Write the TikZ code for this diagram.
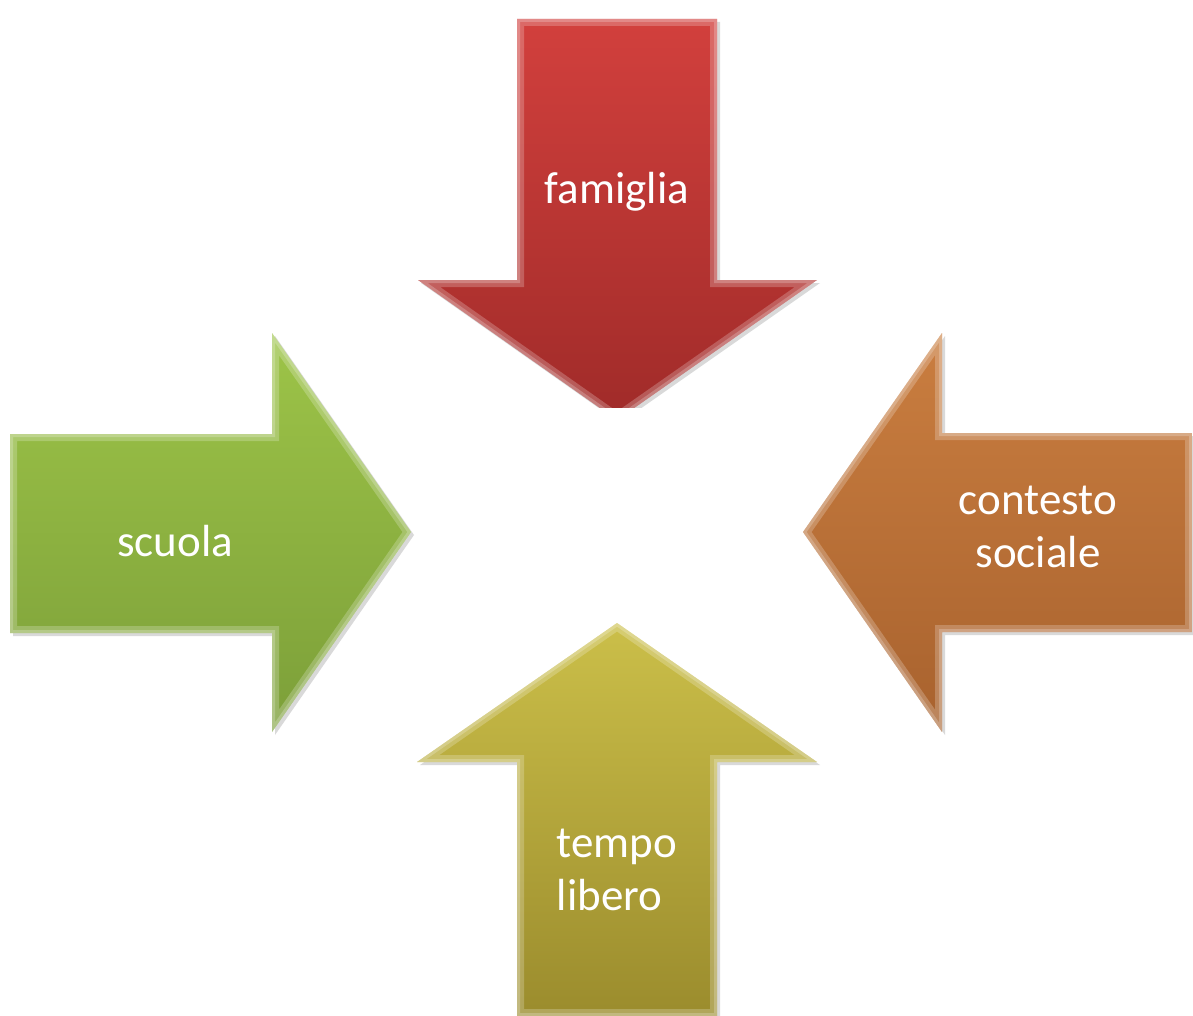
\documentclass[tikz,border=0pt]{standalone}
\usepackage{fontspec}
\setmainfont{Carlito}
\definecolor{redT}{HTML}{D2403D}
\definecolor{redB}{HTML}{A02B29}
\definecolor{greenT}{HTML}{9DC448}
\definecolor{greenB}{HTML}{7C9F39}
\definecolor{orangeT}{HTML}{CA7E40}
\definecolor{orangeB}{HTML}{A8622E}
\definecolor{yellowT}{HTML}{CBBF49}
\definecolor{yellowB}{HTML}{9B8C2D}
\tikzset{
  lbl/.style={text=white, font=\fontsize{45}{53}\selectfont, align=center, inner sep=0pt},
  bevel/.style={line width=14pt, draw=white, draw opacity=0.22, line join=miter},
  bevelin/.style={line width=6pt, draw=white, draw opacity=0.22, line join=miter},
  shadowfill/.style={fill=black, fill opacity=0.15},
  shpred/.style={insert path={(517,19) -- (717,19) -- (717,280) -- (817,280) -- (617,420) -- (418,280) -- (517,280) -- cycle}},
  shpgreen/.style={insert path={(10,434) -- (272,434) -- (272,333) -- (411,532) -- (272,732) -- (272,633) -- (10,633) -- cycle}},
  shporange/.style={insert path={(1192,433) -- (942,433) -- (942,333) -- (803,532) -- (942,732) -- (942,632) -- (1192,632) -- cycle}},
  shpyellow/.style={insert path={(617,623) -- (817,762) -- (717,762) -- (717,1016) -- (517,1016) -- (517,762) -- (417,762) -- cycle}},
}
\begin{document}
\begin{tikzpicture}[x=1pt,y=-1pt]
\useasboundingbox (0,0) rectangle (1193,1016);
% red arrow (famiglia)
\begin{scope}[shift={(3,3)}]\fill[shadowfill, shpred];\end{scope}
\shade[top color=redT, bottom color=redB, shpred];
\begin{scope}\clip[shpred];\draw[bevel, shpred];\draw[bevelin, shpred];\end{scope}
% white centre panel
\fill[white] (500,408) rectangle (800,528);
% green arrow (scuola)
\begin{scope}[shift={(3,3)}]\fill[shadowfill, shpgreen];\end{scope}
\shade[top color=greenT, bottom color=greenB, shpgreen];
\begin{scope}\clip[shpgreen];\draw[bevel, shpgreen];\draw[bevelin, shpgreen];\end{scope}
% orange arrow (contesto sociale)
\begin{scope}[shift={(3,3)}]\fill[shadowfill, shporange];\end{scope}
\shade[top color=orangeT, bottom color=orangeB, shporange];
\begin{scope}\clip[shporange];\draw[bevel, shporange];\draw[bevelin, shporange];\end{scope}
% yellow arrow (tempo libero)
\begin{scope}[shift={(3,3)}]\fill[shadowfill, shpyellow];\end{scope}
\shade[top color=yellowT, bottom color=yellowB, shpyellow];
\begin{scope}\clip[shpyellow];\draw[bevel, shpyellow];\draw[bevelin, shpyellow];\end{scope}
% labels
\node[lbl] (famiglia) at (617,192) {famiglia};
\node[lbl] (scuola) at (175,541) {scuola};
\node[lbl] (contesto) at (1038,527) {contesto\\sociale};
\node[lbl, align=left] (tempo) at (617,870) {tempo\\libero};
\end{tikzpicture}
\end{document}
